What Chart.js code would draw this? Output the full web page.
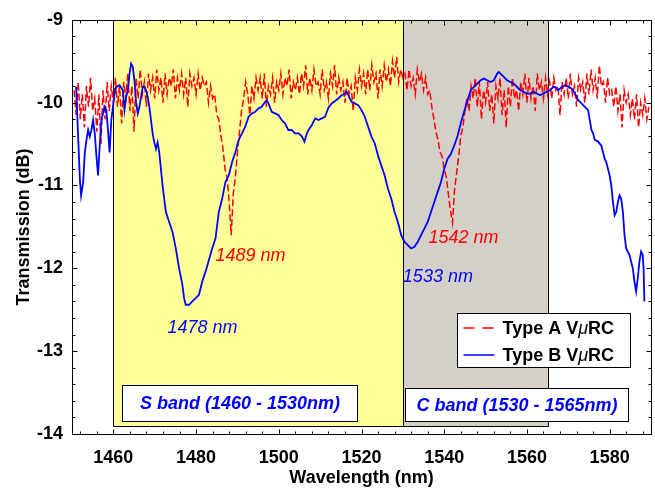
<!DOCTYPE html>
<html>
<head>
<meta charset="utf-8">
<script src="https://cdn.jsdelivr.net/npm/chart.js@4.4.1/dist/chart.umd.min.js"></script>
<style>
  html, body { margin: 0; padding: 0; background: #fff; }
</style>
</head>
<body>
<canvas id="myChart" width="655" height="492"></canvas>
<script>
// Type A VuRC, sampled every 0.5 nm from 1450.5 nm
const typeAStart = 1450.5;
const typeAStep = 0.5;
const typeA = [
  -9.85, -10.15, -9.75, -10.2, -9.9, -10.3, -9.8, -10.05, -9.7, -10.1,     // 1450.5 - 1455
  -9.95, -10.35, -9.9, -10.5, -9.85, -10.2, -9.75, -10.1, -9.8, -10.0,     // 1455.5 - 1460
  -9.7, -10.05, -9.8, -10.25, -9.75, -9.95, -9.65, -10.1, -9.8, -10.35,    // 1460.5 - 1465
  -9.7, -9.95, -9.6, -9.9, -9.75, -10.05, -9.65, -9.85, -9.7, -9.95,       // 1465.5 - 1470
  -9.6, -9.85, -9.7, -10.0, -9.65, -9.9, -9.7, -9.8, -9.6, -9.95,          // 1470.5 - 1475
  -9.7, -9.85, -9.65, -9.9, -9.7, -10.05, -9.65, -9.8, -9.7, -9.9,         // 1475.5 - 1480
  -9.65, -9.85, -9.7, -9.8, -9.75, -10.0, -9.8, -9.95, -9.9, -10.15,       // 1480.5 - 1485
  -10.2, -10.4, -10.55, -10.8, -10.9, -11.2, -11.6, -11.1, -10.9, -10.6,   // 1485.5 - 1490
  -10.35, -10.1, -9.95, -9.75, -9.9, -10.15, -9.8, -9.95, -9.7, -9.85,     // 1490.5 - 1495
  -9.7, -9.95, -9.65, -10.05, -9.8, -9.9, -9.7, -10.0, -9.75, -9.85,       // 1495.5 - 1500
  -9.65, -9.9, -9.7, -9.8, -9.6, -9.95, -9.75, -9.85, -9.7, -9.9,          // 1500.5 - 1505
  -9.65, -9.8, -9.55, -9.9, -9.7, -9.85, -9.6, -9.8, -9.75, -9.9,          // 1505.5 - 1510
  -9.6, -9.85, -9.75, -9.95, -9.65, -9.8, -9.55, -9.9, -9.7, -9.85,        // 1510.5 - 1515
  -9.75, -10.0, -9.7, -9.9, -9.8, -10.1, -9.7, -9.85, -9.6, -9.8,          // 1515.5 - 1520
  -9.65, -9.9, -9.6, -9.85, -9.55, -9.75, -9.65, -9.95, -9.6, -9.8,        // 1520.5 - 1525
  -9.55, -9.75, -9.6, -9.8, -9.5, -9.7, -9.45, -9.75, -9.6, -9.7,          // 1525.5 - 1530
  -9.65, -9.85, -9.6, -9.8, -9.7, -9.9, -9.6, -9.75, -9.65, -9.85,         // 1530.5 - 1535
  -9.7, -9.9, -9.85, -10.05, -10.2, -10.35, -10.45, -10.6, -10.65, -10.8,  // 1535.5 - 1540
  -10.9, -11.1, -11.3, -11.45, -11.05, -10.85, -10.65, -10.4, -10.3, -10.1, // 1540.5 - 1545
  -9.95, -10.1, -9.8, -9.95, -9.7, -10.05, -9.75, -10.2, -9.85, -10.0,     // 1545.5 - 1550
  -9.75, -10.1, -9.9, -10.25, -9.8, -9.95, -9.7, -10.15, -9.85, -10.3,     // 1550.5 - 1555
  -9.8, -10.05, -9.7, -9.95, -9.85, -10.1, -9.75, -9.9, -9.65, -10.0,      // 1555.5 - 1560
  -9.7, -9.95, -9.8, -10.1, -9.65, -9.85, -9.75, -9.95, -9.7, -9.9,        // 1560.5 - 1565
  -9.75, -9.95, -9.7, -9.85, -9.8, -10.15, -9.75, -9.9, -9.7, -9.95,       // 1565.5 - 1570
  -9.65, -9.9, -9.8, -10.05, -9.7, -9.85, -9.75, -10.0, -9.65, -9.9,       // 1570.5 - 1575
  -9.6, -9.85, -9.7, -9.95, -9.55, -9.8, -9.75, -10.0, -9.7, -9.9,         // 1575.5 - 1580
  -9.85, -10.05, -9.8, -10.1, -9.9, -10.3, -9.85, -10.0, -9.9, -10.15,     // 1580.5 - 1585
  -9.95, -10.2, -9.9, -10.3, -10.0, -10.15, -9.95, -10.2, -10.05           // 1585.5 - 1589.5
];

// Type B VuRC
const typeBWl = [
  1451.0, 1451.9, 1452.2, 1452.7, 1453.1, 1453.5, 1453.9, 1454.3, 1454.7, 1455.1,
  1455.5, 1455.9, 1456.3, 1456.7, 1457.1, 1457.5, 1457.9, 1458.3, 1458.7, 1459.1,
  1459.5, 1459.9, 1460.3, 1460.7, 1461.5, 1462.3, 1462.7, 1463.1, 1463.5, 1463.9,
  1464.3, 1464.7, 1465.1, 1465.5, 1465.9, 1466.3, 1466.7, 1467.1, 1467.5, 1467.9,
  1468.3, 1468.7, 1469.1, 1469.5, 1469.9, 1470.3, 1470.7, 1471.1, 1471.9, 1472.7,
  1473.5, 1474.3, 1475.1, 1475.9, 1476.7, 1477.1, 1477.5, 1478.3, 1479.1, 1479.9,
  1480.7, 1481.5, 1482.3, 1483.1, 1483.9, 1484.7, 1485.5, 1486.3, 1487.1, 1487.9,
  1488.7, 1489.5, 1490.3, 1491.1, 1491.9, 1492.7, 1493.5, 1494.3, 1495.1, 1495.9,
  1496.7, 1497.1, 1497.5, 1498.3, 1499.1, 1499.9, 1500.7, 1501.5, 1502.3, 1503.1,
  1503.9, 1504.8, 1505.6, 1506.2, 1506.8, 1507.2, 1508.0, 1508.8, 1509.6, 1510.4,
  1511.2, 1512.0, 1512.8, 1513.6, 1514.4, 1515.2, 1516.0, 1516.4, 1516.8, 1517.6,
  1518.4, 1519.2, 1520.0, 1520.8, 1521.6, 1522.4, 1523.2, 1524.0, 1524.8, 1525.6,
  1526.4, 1527.2, 1528.0, 1528.8, 1529.6, 1530.4, 1531.2, 1532.0, 1532.8, 1533.6,
  1534.4, 1535.2, 1536.0, 1536.8, 1537.6, 1538.4, 1539.2, 1540.0, 1540.8, 1541.6,
  1542.4, 1543.2, 1544.0, 1544.8, 1545.6, 1546.4, 1547.2, 1548.0, 1548.8, 1549.6,
  1550.4, 1551.2, 1552.0, 1552.8, 1553.2, 1553.6, 1554.4, 1555.2, 1556.0, 1556.8,
  1557.6, 1558.4, 1559.2, 1560.0, 1560.8, 1561.6, 1562.4, 1563.2, 1564.0, 1564.8,
  1565.6, 1566.4, 1566.8, 1567.6, 1568.4, 1569.2, 1570.0, 1570.8, 1571.6, 1572.4,
  1573.2, 1574.0, 1574.8, 1575.2, 1575.6, 1576.0, 1576.4, 1577.2, 1578.0, 1578.4,
  1578.8, 1579.2, 1579.6, 1580.0, 1580.4, 1580.8, 1581.2, 1581.6, 1582.0, 1582.4,
  1582.8, 1583.2, 1583.6, 1584.0, 1584.4, 1584.8, 1585.2, 1585.6, 1586.0, 1586.4,
  1586.8, 1587.2, 1587.6, 1588.0, 1588.2, 1588.4
];
const typeBdB = [
  -9.81, -10.92, -11.12, -10.96, -10.60, -10.45, -10.33, -10.41, -10.33, -10.21,
  -10.37, -10.64, -10.88, -10.52, -10.21, -10.13, -10.05, -10.09, -10.33, -10.60,
  -10.21, -10.05, -9.89, -9.81, -9.79, -9.85, -10.09, -9.93, -9.85, -9.65,
  -9.53, -9.57, -9.73, -10.0, -10.13, -10.05, -9.93, -9.81, -9.81, -9.85,
  -9.93, -10.05, -10.21, -10.37, -10.48, -10.56, -10.48, -10.60, -11.0, -11.32,
  -11.44, -11.56, -11.76, -12.0, -12.2, -12.36, -12.44, -12.44, -12.40, -12.36,
  -12.32, -12.16, -12.04, -11.9, -11.76, -11.64, -11.32, -11.16, -10.96, -10.88,
  -10.72, -10.60, -10.45, -10.37, -10.29, -10.17, -10.13, -10.11, -10.07, -10.05,
  -9.99, -9.97, -10.01, -10.11, -10.13, -10.15, -10.21, -10.25, -10.33, -10.33,
  -10.37, -10.37, -10.41, -10.47, -10.37, -10.33, -10.27, -10.19, -10.21, -10.19,
  -10.17, -10.06, -10.01, -9.98, -9.95, -9.91, -9.89, -9.87, -9.91, -9.99,
  -10.01, -10.03, -10.09, -10.17, -10.29, -10.41, -10.49, -10.64, -10.76, -10.88,
  -11.04, -11.16, -11.32, -11.44, -11.60, -11.68, -11.72, -11.76, -11.74, -11.68,
  -11.60, -11.52, -11.44, -11.32, -11.20, -11.08, -10.96, -10.80, -10.68, -10.62,
  -10.52, -10.41, -10.25, -10.11, -9.98, -9.85, -9.81, -9.77, -9.73, -9.71,
  -9.73, -9.75, -9.73, -9.65, -9.63, -9.65, -9.69, -9.73, -9.75, -9.77,
  -9.81, -9.85, -9.87, -9.89, -9.89, -9.87, -9.89, -9.91, -9.89, -9.87,
  -9.85, -9.81, -9.81, -9.85, -9.81, -9.79, -9.81, -9.83, -9.89, -9.97,
  -10.01, -10.05, -10.09, -10.21, -10.33, -10.37, -10.45, -10.47, -10.52, -10.60,
  -10.68, -10.72, -10.80, -10.88, -11.00, -11.20, -11.36, -11.32, -11.20, -11.12,
  -11.16, -11.32, -11.60, -11.76, -11.80, -11.84, -11.92, -12.00, -12.16, -12.28,
  -12.12, -11.92, -11.80, -11.84, -12.00, -12.40
];

const xTicks = [1460, 1480, 1500, 1520, 1540, 1560, 1580];
const yTicks = [-14, -13, -12, -11, -10, -9];
const bandEdges = [1460, 1530, 1565];
const bandNames = ['S band (1460 - 1530nm)', 'C band (1530 - 1565nm)'];
const dipNames = ['1478 nm', '1489 nm', '1533 nm', '1542 nm'];
const seriesNames = ['Type A V', 'Type B V'];

const FONT = 'Arial, "Liberation Sans", sans-serif';
const RED = '#ff0000';
const BLUE = '#0000ff';

const typeAPoints = typeA.map((v, i) => ({ x: typeAStart + i * typeAStep, y: v }));
const typeBPoints = typeBdB.map((v, i) => ({ x: typeBWl[i], y: v }));

const decor = {
	id: 'decor',
	beforeDatasetsDraw(chart) {
		const { ctx, chartArea: a, scales: { x, y } } = chart;
		const fills = ['#ffff99', '#d4d0c8'];
		const bottom = Math.round(y.getPixelForValue(-13.9)) + 0.5;
		ctx.save();
		for (let i = 0; i < 2; i++) {
			const l = Math.round(x.getPixelForValue(bandEdges[i])) + 0.5;
			const r = Math.round(x.getPixelForValue(bandEdges[i + 1])) + 0.5;
			ctx.fillStyle = fills[i];
			ctx.fillRect(l, a.top, r - l, bottom - a.top);
			ctx.strokeStyle = '#000';
			ctx.lineWidth = 1;
			ctx.beginPath();
			ctx.moveTo(l, a.top);
			ctx.lineTo(l, bottom);
			ctx.lineTo(r, bottom);
			ctx.lineTo(r, a.top);
			ctx.stroke();
		}
		ctx.restore();
	},
	afterDatasetsDraw(chart) {
		const { ctx, chartArea: a, scales: { x, y } } = chart;
		const px = (v) => x.getPixelForValue(v);
		const py = (v) => y.getPixelForValue(v);
		ctx.save();

		// band label boxes
		const boxes = [
			[1462.2, 1519.0, -13.41, -13.84],
			[1530.4, 1584.5, -13.45, -13.84],
		];
		ctx.font = 'italic bold 18px ' + FONT;
		ctx.textAlign = 'center';
		ctx.textBaseline = 'middle';
		boxes.forEach((b, i) => {
			const l = Math.round(px(b[0])) + 0.5, r = Math.round(px(b[1])) + 0.5;
			const t = Math.round(py(b[2])) + 0.5, btm = Math.round(py(b[3])) + 0.5;
			ctx.fillStyle = '#fff';
			ctx.fillRect(l, t, r - l, btm - t);
			ctx.strokeStyle = '#000';
			ctx.lineWidth = 1;
			ctx.strokeRect(l, t, r - l, btm - t);
			ctx.fillStyle = BLUE;
			ctx.fillText(bandNames[i], (l + r) / 2, (t + btm) / 2 + 1);
		});

		// dip labels
		const dipAt = [[1473.1, -12.72, BLUE], [1484.7, -11.85, RED], [1530.0, -12.10, BLUE], [1536.2, -11.64, RED]];
		ctx.font = 'italic 18px ' + FONT;
		ctx.textAlign = 'left';
		dipAt.forEach((d, i) => {
			ctx.fillStyle = d[2];
			ctx.fillText(dipNames[i], px(d[0]), py(d[1]));
		});

		// legend
		const lg = { l: Math.round(px(1543.2)) + 0.5, r: Math.round(px(1585.0)) + 0.5, t: Math.round(py(-12.54)) + 0.5, b: Math.round(py(-13.19)) + 0.5 };
		ctx.fillStyle = '#fff';
		ctx.fillRect(lg.l, lg.t, lg.r - lg.l, lg.b - lg.t);
		ctx.strokeStyle = '#000';
		ctx.strokeRect(lg.l, lg.t, lg.r - lg.l, lg.b - lg.t);
		const rows = [[lg.t + 14.5, RED, [11, 8]], [lg.t + 41.5, BLUE, []]];
		rows.forEach((row, i) => {
			ctx.strokeStyle = row[1];
			ctx.lineWidth = 1.5;
			ctx.setLineDash(row[2]);
			ctx.beginPath();
			ctx.moveTo(lg.l + 6, row[0]);
			ctx.lineTo(lg.l + 37, row[0]);
			ctx.stroke();
			ctx.setLineDash([]);
			let tx = lg.l + 45;
			ctx.fillStyle = '#000';
			ctx.font = 'bold 18px ' + FONT;
			ctx.fillText(seriesNames[i], tx, row[0] + 1);
			tx += ctx.measureText(seriesNames[i]).width;
			ctx.font = 'italic 18px ' + FONT;
			ctx.fillText('\u03bc', tx, row[0] + 1);
			tx += ctx.measureText('\u03bc').width;
			ctx.font = 'bold 18px ' + FONT;
			ctx.fillText('RC', tx, row[0] + 1);
		});

		// frame and inward ticks on all sides
		ctx.strokeStyle = '#000';
		ctx.lineWidth = 1;
		const L = Math.round(a.left) + 0.5, R = Math.round(a.right) + 0.5;
		const T = Math.round(a.top) + 0.5, B = Math.round(a.bottom) + 0.5;
		ctx.strokeRect(L, T, R - L, B - T);
		ctx.beginPath();
		for (let v = 1452; v <= 1588; v += 4) {
			const len = xTicks.includes(v) ? 5 : 3;
			const xx = Math.round(px(v)) + 0.5;
			ctx.moveTo(xx, B); ctx.lineTo(xx, B - len);
			ctx.moveTo(xx, T); ctx.lineTo(xx, T + len);
		}
		for (let k = -70; k <= -45; k++) {
			const v = k / 5;
			const len = k % 5 === 0 ? 5 : 3;
			const yy = Math.round(py(v)) + 0.5;
			ctx.moveTo(L, yy); ctx.lineTo(L + len, yy);
			ctx.moveTo(R, yy); ctx.lineTo(R - len, yy);
		}
		ctx.stroke();
		ctx.restore();
	},
};

const tickFont = { family: FONT, size: 18, weight: 'bold' };

new Chart(document.getElementById('myChart'), {
	type: 'line',
	data: {
		datasets: [
			{
				label: 'Type A VμRC',
				data: typeAPoints,
				borderColor: RED,
				borderWidth: 1.5,
				borderDash: [7, 3],
				pointRadius: 0,
				tension: 0,
				order: 1,
			},
			{
				label: 'Type B VμRC',
				data: typeBPoints,
				borderColor: BLUE,
				borderWidth: 1.8,
				pointRadius: 0,
				tension: 0,
				order: 0,
			},
		],
	},
	options: {
		responsive: false,
		animation: false,
		layout: { padding: { top: 16, right: 4, left: 0, bottom: 0 } },
		plugins: { legend: { display: false }, tooltip: { enabled: false } },
		scales: {
			x: {
				type: 'linear',
				min: 1450,
				max: 1590,
				afterFit(s) { s.height = 58; },
				afterBuildTicks(s) { s.ticks = xTicks.map((v) => ({ value: v })); },
				ticks: { padding: 13, font: tickFont, color: '#000', maxRotation: 0, autoSkip: false, callback: (v) => String(v) },
				grid: { display: false, drawTicks: false },
				border: { display: false },
				title: { display: true, text: 'Wavelength (nm)', font: tickFont, color: '#000', padding: { top: 0, bottom: 3 } },
			},
			y: {
				min: -14,
				max: -9,
				afterFit(s) { s.width = 72; },
				afterBuildTicks(s) { s.ticks = yTicks.map((v) => ({ value: v })); },
				ticks: { padding: 9, font: tickFont, color: '#000', autoSkip: false, callback: (v) => String(v) },
				grid: { display: false, drawTicks: false },
				border: { display: false },
				title: { display: true, text: 'Transmission (dB)', font: tickFont, color: '#000', padding: { top: 13, bottom: 0 } },
			},
		},
	},
	plugins: [decor],
});
</script>
</body>
</html>
